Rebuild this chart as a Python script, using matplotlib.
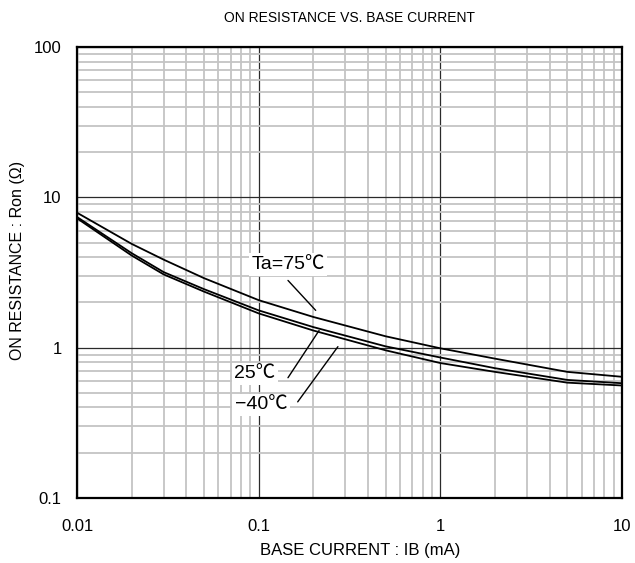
import matplotlib.pyplot as plt
from matplotlib.ticker import LogLocator, FixedLocator, FixedFormatter, NullFormatter

plt.rcParams['font.family'] = ['Liberation Sans', 'Noto Sans CJK JP', 'DejaVu Sans']

# base current (mA)
ib = [0.01, 0.02, 0.03, 0.05, 0.1, 0.2, 0.5, 1, 2, 5, 10]
# on resistance (ohm) per temperature
ron_75 = [7.9, 4.9, 3.85, 2.9, 2.07, 1.60, 1.19, 0.99, 0.845, 0.69, 0.64]
ron_25 = [7.4, 4.25, 3.18, 2.45, 1.77, 1.37, 1.02, 0.86, 0.73, 0.61, 0.58]
ron_m40 = [7.25, 4.1, 3.07, 2.36, 1.69, 1.30, 0.96, 0.79, 0.69, 0.585, 0.56]

fig = plt.figure(figsize=(6.35, 5.63), dpi=100)
ax = fig.add_axes([0.1213, 0.1155, 0.8582, 0.801])

ax.plot(ib, ron_75, color='k', lw=1.3)
ax.plot(ib, ron_25, color='k', lw=1.3)
ax.plot(ib, ron_m40, color='k', lw=1.3)

ax.set_xscale('log')
ax.set_yscale('log')
ax.set_xlim(0.01, 10)
ax.set_ylim(0.1, 100)

ax.xaxis.set_major_locator(FixedLocator([0.01, 0.1, 1, 10]))
ax.xaxis.set_major_formatter(FixedFormatter(['0.01', '0.1', '1', '10']))
ax.yaxis.set_major_locator(FixedLocator([0.1, 1, 10, 100]))
ax.yaxis.set_major_formatter(FixedFormatter(['0.1', '1', '10', '100']))
ax.xaxis.set_minor_locator(LogLocator(base=10, subs=range(2, 10)))
ax.yaxis.set_minor_locator(LogLocator(base=10, subs=range(2, 10)))
ax.xaxis.set_minor_formatter(NullFormatter())
ax.yaxis.set_minor_formatter(NullFormatter())

ax.grid(which='minor', color='#c4c4c4', lw=1.3)
ax.grid(which='major', color='#2a2a2a', lw=0.9)
ax.set_axisbelow(True)
ax.tick_params(which='both', length=0, labelsize=12)
ax.tick_params(axis='x', pad=15)
ax.tick_params(axis='y', pad=11)
for s in ax.spines.values():
    s.set_linewidth(1.6)

fig.text(0.55, 0.968, 'ON RESISTANCE VS. BASE CURRENT', fontsize=10,
         ha='center', va='center')
fig.text(0.567, 0.023, 'BASE CURRENT : IB (mA)', fontsize=12,
         ha='center', va='center')
fig.text(0.028, 0.538, 'ON RESISTANCE : Ron (Ω)', fontsize=11.5,
         ha='center', va='center', rotation=90)

box = dict(facecolor='white', edgecolor='none', pad=2)
ax.text(0.145, 3.58, 'Ta=75℃', fontsize=14, ha='center', va='center', bbox=box)
ax.text(0.0955, 0.67, '25℃', fontsize=14, ha='center', va='center', bbox=box)
ax.text(0.103, 0.417, '−40℃', fontsize=14, ha='center', va='center', bbox=box)

line = dict(arrowstyle='-', color='k', lw=1, shrinkA=0, shrinkB=0)
ax.annotate('', xy=(0.206, 1.77), xytext=(0.145, 2.8), arrowprops=line)
ax.annotate('', xy=(0.215, 1.30), xytext=(0.145, 0.631), arrowprops=line)
ax.annotate('', xy=(0.273, 1.015), xytext=(0.164, 0.436), arrowprops=line)

fig.savefig('out.png', dpi=100)
